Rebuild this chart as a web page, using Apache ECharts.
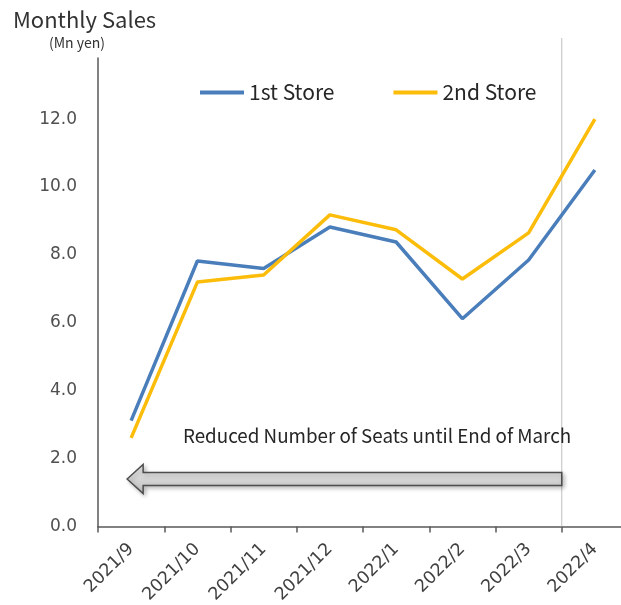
<!DOCTYPE html>
<html>
<head>
<meta charset="utf-8">
<script src="https://cdn.jsdelivr.net/npm/echarts@6/dist/echarts.min.js"></script>
<style>
  html, body { margin: 0; padding: 0; background: #fff; }
  #chart { width: 621px; height: 605px; }
</style>
</head>
<body>
<div id="chart"></div>
<script>
// data (Mn yen)
const months = ['2021/9', '2021/10', '2021/11', '2021/12', '2022/1', '2022/2', '2022/3', '2022/4'];
const store1 = [3.12, 7.82, 7.6, 8.82, 8.38, 6.12, 7.85, 10.5];
const store2 = [2.61, 7.2, 7.41, 9.18, 8.74, 7.29, 8.65, 12.0];
const seriesNames = ['1st Store', '2nd Store'];
const note = 'Reduced Number of Seats until End of March';

const jp = '"Noto Sans CJK JP", "Noto Sans", sans-serif';
const dv = '"DejaVu Sans", Verdana, sans-serif';
const axisColor = '#595959';

const chart = echarts.init(document.getElementById('chart'));

chart.setOption({
    animation: false,
    title: [
        {
            text: 'Monthly Sales',
            left: 8,
            top: 4,
            textStyle: { fontFamily: jp, fontSize: 22, fontWeight: 'normal', color: '#333' }
        },
        {
            text: '(Mn yen)',
            left: 44,
            top: 31,
            textStyle: { fontFamily: jp, fontSize: 14, fontWeight: 'normal', color: '#333' }
        }
    ],
    legend: {
        top: 77,
        left: 195,
        icon: 'rect',
        itemWidth: 44,
        itemHeight: 4,
        itemGap: 59,
        textStyle: { fontFamily: jp, fontSize: 21, color: '#262626' },
        data: seriesNames
    },
    grid: { left: 98, top: 58, bottom: 78.5, width: 530, outerBoundsMode: 'none' },
    xAxis: {
        type: 'category',
        data: months,
        axisLine: { lineStyle: { color: axisColor, width: 1.5 } },
        axisTick: { show: true, length: 6, lineStyle: { color: axisColor, width: 1.5 } },
        axisLabel: {
            rotate: 45,
            margin: 20,
            interval: 0,
            fontFamily: dv,
            fontSize: 17.5,
            color: '#404040'
        }
    },
    yAxis: {
        type: 'value',
        min: 0,
        max: 13.8,
        interval: 2,
        splitLine: { show: false },
        axisLine: { show: true, lineStyle: { color: axisColor, width: 1.5 } },
        axisTick: { show: false },
        axisLabel: {
            margin: 21,
            showMaxLabel: false,
            fontFamily: dv,
            fontSize: 17,
            color: '#505050',
            formatter: v => v.toFixed(1)
        }
    },
    series: [
        {
            name: seriesNames[0],
            type: 'line',
            data: store1,
            symbol: 'none',
            color: '#4a7ebb',
            lineStyle: { width: 3.5 }
        },
        {
            name: seriesNames[1],
            type: 'line',
            data: store2,
            symbol: 'none',
            color: '#fbbc0a',
            lineStyle: { width: 3.5 }
        }
    ]
});

// decorations placed from the axis scales
const band = chart.convertToPixel({ xAxisIndex: 0 }, months[1]) - chart.convertToPixel({ xAxisIndex: 0 }, months[0]);
const marchEnd = chart.convertToPixel({ xAxisIndex: 0 }, '2022/3') + band / 2;
const axisY = chart.convertToPixel({ yAxisIndex: 0 }, 0);
const arrowY = chart.convertToPixel({ yAxisIndex: 0 }, 1.4);
const tipX = chart.convertToPixel({ xAxisIndex: 0 }, months[0]) - 4;
const headX = tipX + 16;

chart.setOption({
    graphic: [
        {
            type: 'line',
            z: 1,
            shape: { x1: marchEnd, y1: 38, x2: marchEnd, y2: axisY },
            style: { stroke: '#bfbfbf', lineWidth: 1 }
        },
        {
            type: 'polygon',
            z: 5,
            shape: {
                points: [
                    [tipX, arrowY],
                    [headX, arrowY - 14.5],
                    [headX, arrowY - 6.5],
                    [marchEnd, arrowY - 6.5],
                    [marchEnd, arrowY + 6.5],
                    [headX, arrowY + 6.5],
                    [headX, arrowY + 14.5]
                ]
            },
            style: {
                fill: new echarts.graphic.LinearGradient(0, 0, 0, 1, [
                    { offset: 0, color: '#ebebeb' },
                    { offset: 0.5, color: '#d4d4d4' },
                    { offset: 1, color: '#c4c4c4' }
                ]),
                stroke: '#4d4d4d',
                lineWidth: 1.5,
                shadowBlur: 4,
                shadowOffsetX: 2,
                shadowOffsetY: 2,
                shadowColor: 'rgba(0,0,0,0.25)'
            }
        },
        {
            type: 'text',
            z: 5,
            left: 183,
            top: 426,
            style: {
                text: note,
                fontFamily: jp,
                fontSize: 18.8,
                fill: '#262626'
            }
        }
    ]
});
</script>
</body>
</html>
